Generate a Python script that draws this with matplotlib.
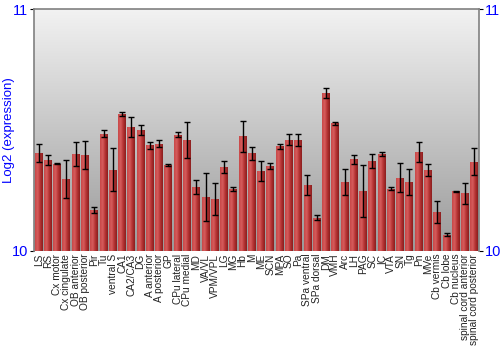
import numpy as np
import matplotlib
matplotlib.use("Agg")
import matplotlib.pyplot as plt
from matplotlib.colors import LinearSegmentedColormap

plt.rcParams["font.family"] = ["Liberation Sans", "DejaVu Sans"]

# regions and expression values (log2)
regions = ["LS", "RS", "Cx motor", "Cx cingulate", "OB anterior", "OB posterior",
           "Pir", "Tu", "ventral S", "CA1", "CA2/CA3", "DG", "A anterior",
           "A posterior", "GP", "CPu lateral", "CPu medial", "MD", "VA/VL",
           "VPM/VPL", "LG", "MG", "Hb", "M", "ME", "SCN", "MPA", "SO", "Pa",
           "SPa ventral", "SPa dorsal", "DM", "VMH", "Arc", "LH", "PAG", "SC",
           "IC", "VTA", "SN", "Tg", "Pn", "MVe", "Cb vermis", "Cb lobe",
           "Cb nucleus", "spinal cord anterior", "spinal cord posterior"]

expression = [10.406, 10.375, 10.361, 10.296, 10.402, 10.397, 10.168, 10.485,
              10.336, 10.566, 10.512, 10.499, 10.437, 10.443, 10.355, 10.481,
              10.459, 10.264, 10.223, 10.215, 10.347, 10.256, 10.474, 10.404,
              10.329, 10.351, 10.432, 10.460, 10.457, 10.273, 10.138, 10.652,
              10.528, 10.285, 10.379, 10.249, 10.371, 10.400, 10.258, 10.303,
              10.285, 10.409, 10.335, 10.161, 10.067, 10.247, 10.238, 10.369]

errors = [0.038, 0.020, 0.003, 0.078, 0.050, 0.057, 0.013, 0.014, 0.090, 0.010,
          0.040, 0.020, 0.014, 0.014, 0.003, 0.009, 0.076, 0.028, 0.100, 0.065,
          0.024, 0.008, 0.063, 0.027, 0.041, 0.011, 0.011, 0.022, 0.025, 0.040,
          0.010, 0.021, 0.007, 0.052, 0.019, 0.107, 0.030, 0.008, 0.008, 0.059,
          0.052, 0.040, 0.026, 0.047, 0.006, 0.002, 0.045, 0.055]

fig = plt.figure(figsize=(5, 3.5), dpi=100)
ax = fig.add_axes([0.068, 0.283, 0.89, 0.691])

x = np.arange(len(regions))
ax.set_xlim(-0.5, len(regions) - 0.5)
ax.set_ylim(10, 11)

# grey gradient background
bg = LinearSegmentedColormap.from_list("bg", ["#9a9a9a", "#f2f2f2"])
ax.imshow(np.linspace(0, 1, 256).reshape(-1, 1), cmap=bg, aspect="auto",
          extent=(-0.5, len(regions) - 0.5, 10, 11), origin="lower", zorder=0)

bars = ax.bar(x, np.array(expression) - 10, bottom=10, width=0.86,
              color="#b83434", edgecolor="none", zorder=2)

# cylinder shading on each bar
shade = LinearSegmentedColormap.from_list("shade", ["#c84848", "#d65c5c", "#b43232", "#8a1e1e"])
grad = np.linspace(0, 1, 64).reshape(1, -1)
for b in bars:
    x0, w = b.get_x(), b.get_width()
    im = ax.imshow(grad, cmap=shade, aspect="auto",
                   extent=(x0, x0 + w, 10, b.get_y() + b.get_height()), zorder=3)
    im.set_clip_path(b)

ax.errorbar(x, expression, yerr=errors, fmt="none", ecolor="black",
            elinewidth=1, capsize=2, capthick=1, zorder=4)

ax.set_xlim(-0.5, len(regions) - 0.5)
ax.set_ylim(10, 11)

ax.set_xticks(x)
ax.set_xticklabels(regions, rotation=90, fontsize=7.3, color="#222222")
ax.tick_params(axis="x", length=0, pad=2)

ax.set_yticks([10, 11])
ax.set_yticklabels(["10", "11"])
ax.tick_params(axis="y", labelcolor="blue", labelsize=10.5, length=3, pad=1,
               left=True, right=True, labelleft=True, labelright=True)
ax.set_ylabel("Log2 (expression)", color="blue", fontsize=9.5, labelpad=-2)

for s in ["top", "left", "right"]:
    ax.spines[s].set_color("#808080")
    ax.spines[s].set_linewidth(1.2)
ax.spines["bottom"].set_visible(False)

fig.savefig("out.png", dpi=100)
